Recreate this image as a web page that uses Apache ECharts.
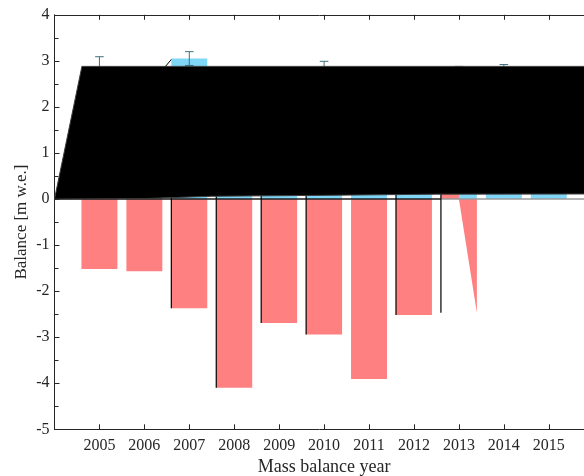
<!DOCTYPE html>
<html>
<head>
<meta charset="utf-8">
<script src="https://cdn.jsdelivr.net/npm/echarts@6/dist/echarts.min.js"></script>
<style>
  html, body { margin: 0; padding: 0; background: #fff; }
  #chart { width: 584px; height: 476px; }
</style>
</head>
<body>
<div id="chart"></div>
<script>
// Mass balance per year: winter (positive) and summer (negative), m w.e.
const years          = [2005, 2006, 2007, 2008, 2009, 2010, 2011, 2012, 2013, 2014, 2015];
const winterBalance  = [2.88, 2.50, 3.05, 2.20, 2.40, 2.79, 2.30, 2.60, 2.68, 2.72, 2.60];
const winterError    = [0.21, 0.20, 0.15, 0.20, 0.20, 0.20, 0.20, 0.20, 0.20, 0.20, 0.20];
const summerBalance  = [-1.52, -1.57, -2.37, -4.10, -2.69, -2.94, -3.91, -2.52, -2.47, null, null];

// Years whose summer bar carries a black left edge, and the year drawn as a torn wedge
const outlinedYears  = [2007, 2008, 2009, 2010, 2012, 2013];
const wedgeYear      = 2013;

// Filled net-balance patch outline and its small spur, as [year, balance]
const netOutline     = [[2004, 0], [2004.61, 2.88], [2016, 2.88], [2016, 0.11], [2012.5, 0.105], [2010, 0.08], [2007.5, 0.06], [2006, 0.01]];
const netSpur        = [[2006.47, 2.88], [2006.6, 3.03]];

// Axis ranges
const xRange = [2004, 2016];
const yRange = [-5, 4];

const BAR_HALF = 0.4;
const AXIS_COLOR = '#262626';
const FONT = '"Liberation Serif", "Times New Roman", serif';
const RED = '#ff8080';
const BLUE = '#80d6f6';
const ERR = '#41707f';

function rect(api, x0, x1, y0, y1) {
  const a = api.coord([x0, Math.max(y0, y1)]);
  const b = api.coord([x1, Math.min(y0, y1)]);
  return { x: a[0], y: a[1], width: b[0] - a[0], height: b[1] - a[1] };
}

const chart = echarts.init(document.getElementById('chart'), null, { renderer: 'canvas' });

const commonX = {
  type: 'value', min: xRange[0], max: xRange[1], interval: 1,
  splitLine: { show: false },
  axisLine: { show: true, onZero: false, lineStyle: { color: AXIS_COLOR, width: 1 } },
  axisTick: { show: true, inside: true, length: 5, lineStyle: { color: AXIS_COLOR } }
};

chart.setOption({
  animation: false,
  backgroundColor: '#fff',
  grid: { left: 54.5, top: 14.8, width: 539.2, height: 414.5, containLabel: false, outerBoundsMode: 'none' },
  xAxis: [
    Object.assign({}, commonX, {
      position: 'bottom',
      name: 'Mass balance year',
      nameLocation: 'middle',
      nameGap: 28,
      nameTextStyle: { fontFamily: FONT, fontSize: 18, color: AXIS_COLOR },
      axisLabel: {
        margin: 8, fontFamily: FONT, fontSize: 16, color: AXIS_COLOR,
        formatter: v => (v > xRange[0] && v < xRange[1]) ? String(v) : ''
      }
    }),
    Object.assign({}, commonX, { position: 'top', axisLabel: { show: false } })
  ],
  yAxis: {
    type: 'value', min: yRange[0], max: yRange[1], interval: 1,
    name: 'Balance [m w.e.]',
    nameLocation: 'middle',
    nameGap: 24.5,
    nameMoveOverlap: false,
    nameTextStyle: { fontFamily: FONT, fontSize: 17, color: AXIS_COLOR },
    splitLine: { show: false },
    axisLine: { show: true, onZero: false, lineStyle: { color: AXIS_COLOR, width: 1 } },
    axisTick: { show: true, inside: true, length: 5, lineStyle: { color: AXIS_COLOR } },
    minorTick: { show: true, splitNumber: 2, length: 4, lineStyle: { color: AXIS_COLOR } },
    axisLabel: { margin: 5, fontFamily: FONT, fontSize: 16, color: AXIS_COLOR }
  },
  series: [
    // Winter balance bars
    {
      type: 'custom', name: 'Winter', z: 1,
      data: years.map((y, i) => [y, winterBalance[i]]),
      renderItem: (params, api) => {
        const x = api.value(0), v = api.value(1);
        return { type: 'rect', shape: rect(api, x - BAR_HALF, x + BAR_HALF, 0, v), style: { fill: BLUE } };
      }
    },
    // Winter error bars
    {
      type: 'custom', name: 'Winter error', z: 2,
      data: years.map((y, i) => [y, winterBalance[i], winterError[i]]),
      renderItem: (params, api) => {
        const x = api.value(0), v = api.value(1), e = api.value(2);
        const top = api.coord([x, v + e]), bot = api.coord([x, v - e]);
        const cap = 4.3;
        const st = { stroke: ERR, lineWidth: 1 };
        return {
          type: 'group', children: [
            { type: 'line', shape: { x1: top[0], y1: top[1], x2: bot[0], y2: bot[1] }, style: st },
            { type: 'line', shape: { x1: top[0] - cap, y1: top[1], x2: top[0] + cap, y2: top[1] }, style: st },
            { type: 'line', shape: { x1: bot[0] - cap, y1: bot[1], x2: bot[0] + cap, y2: bot[1] }, style: st }
          ]
        };
      }
    },
    // Summer balance bars
    {
      type: 'custom', name: 'Summer', z: 3,
      data: years.map((y, i) => [y, summerBalance[i]]).filter(d => d[1] !== null),
      renderItem: (params, api) => {
        const x = api.value(0), v = api.value(1);
        if (x === wedgeYear) {
          const p = [[x, 0], [x + BAR_HALF, 0], [x + BAR_HALF, v]].map(q => api.coord(q));
          return {
            type: 'group', children: [
              { type: 'rect', shape: rect(api, x - BAR_HALF, x, 0, 0.2), style: { fill: RED } },
              { type: 'polygon', shape: { points: p }, style: { fill: RED } }
            ]
          };
        }
        return { type: 'rect', shape: rect(api, x - BAR_HALF, x + BAR_HALF, 0, v), style: { fill: RED } };
      }
    },
    // Zero line
    {
      type: 'custom', name: 'Zero', z: 4,
      data: [[xRange[0], 0]],
      renderItem: (params, api) => {
        const a = api.coord([xRange[0], 0]);
        const m = api.coord([wedgeYear - BAR_HALF, 0]);
        const b = api.coord([xRange[1], 0]);
        return {
          type: 'group', children: [
            { type: 'line', shape: { x1: a[0], y1: a[1], x2: m[0], y2: m[1] }, style: { stroke: '#1e1e1e', lineWidth: 1.4 } },
            { type: 'line', shape: { x1: m[0], y1: m[1], x2: b[0], y2: b[1] }, style: { stroke: '#9a9a9a', lineWidth: 1.6 } }
          ]
        };
      }
    },
    // Black left edges of summer bars
    {
      type: 'custom', name: 'Edges', z: 5,
      data: outlinedYears.map(y => [y, summerBalance[years.indexOf(y)]]),
      renderItem: (params, api) => {
        const x = api.value(0) - BAR_HALF, v = api.value(1);
        const a = api.coord([x, 0.2]), b = api.coord([x, v]);
        return { type: 'line', shape: { x1: a[0], y1: a[1], x2: b[0], y2: b[1] }, style: { stroke: '#000', lineWidth: 1.2 } };
      }
    },
    // Net balance patch
    {
      type: 'custom', name: 'Net', z: 6,
      data: [netOutline[0]],
      renderItem: (params, api) => {
        const pts = netOutline.map(p => api.coord(p));
        const s = netSpur.map(p => api.coord(p));
        return {
          type: 'group', children: [
            { type: 'polygon', shape: { points: pts }, style: { fill: '#000', stroke: '#3c3c3c', lineWidth: 1 } },
            { type: 'line', shape: { x1: s[0][0], y1: s[0][1], x2: s[1][0], y2: s[1][1] }, style: { stroke: '#000', lineWidth: 1 } }
          ]
        };
      }
    }
  ]
});
</script>
</body>
</html>
